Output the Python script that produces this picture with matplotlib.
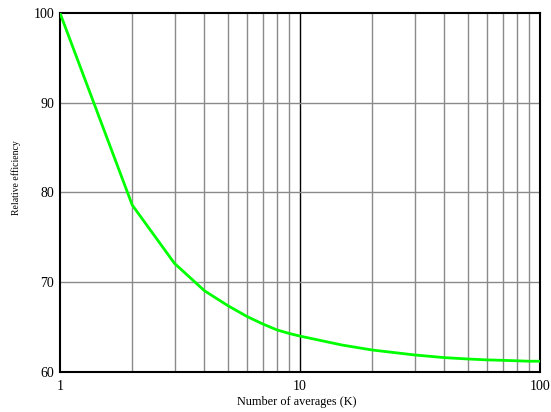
import matplotlib
matplotlib.use("Agg")
import matplotlib.pyplot as plt
from matplotlib.ticker import FixedLocator, NullFormatter

K = [1, 2, 3, 4, 5, 6, 7, 8, 9, 10, 15, 20, 30, 40, 50, 60, 70, 80, 90, 100]
eff = [100, 78.6, 72.1, 69.05, 67.4, 66.2, 65.35, 64.7, 64.3, 64.0, 63.0, 62.45,
       61.9, 61.6, 61.45, 61.35, 61.3, 61.25, 61.2, 61.2]
xticks = [1, 10, 100]
xticklabels = ["1", "10", "100"]
yticks = [60, 70, 80, 90, 100]

plt.rcParams['font.family'] = ['Liberation Serif', 'DejaVu Serif']
W, H = 551, 412
fig = plt.figure(figsize=(W/100, H/100), dpi=100)
ax = fig.add_axes([60/W, 1-372/H, 480/W, 359/H])
ax.set_xscale('log')
ax.set_xlim(1, 100)
ax.set_ylim(60, 100)

minor = [m * d for d in (1, 10) for m in range(2, 10)]
for x in minor:
    ax.axvline(x, color='#8a8a8a', lw=1.0, zorder=1)
ax.axvline(10, color='black', lw=1.0, zorder=1)
for y in (70, 80, 90):
    ax.axhline(y, color='#8a8a8a', lw=1.0, zorder=1)

ax.plot(K, eff, color='#00ff00', lw=2, zorder=3)

ax.xaxis.set_major_locator(FixedLocator(xticks))
ax.set_xticklabels(xticklabels)
ax.xaxis.set_minor_locator(FixedLocator(minor))
ax.xaxis.set_minor_formatter(NullFormatter())
ax.set_yticks(yticks)
ax.tick_params(which='both', length=0)
ax.tick_params(axis='x', pad=5.5, labelsize=10)
ax.tick_params(axis='y', pad=4.3, labelsize=10)
for s in ax.spines.values():
    s.set_linewidth(1.5)
    s.set_color('black')
fig.text(297/W, 1-402/H, 'Number of averages (K)', fontsize=8.8, ha='center', va='center')
fig.text(16/W, 1-178/H, 'Relative efficiency', fontsize=7, ha='center', va='center', rotation=90)
fig.savefig('out.png', dpi=100)
